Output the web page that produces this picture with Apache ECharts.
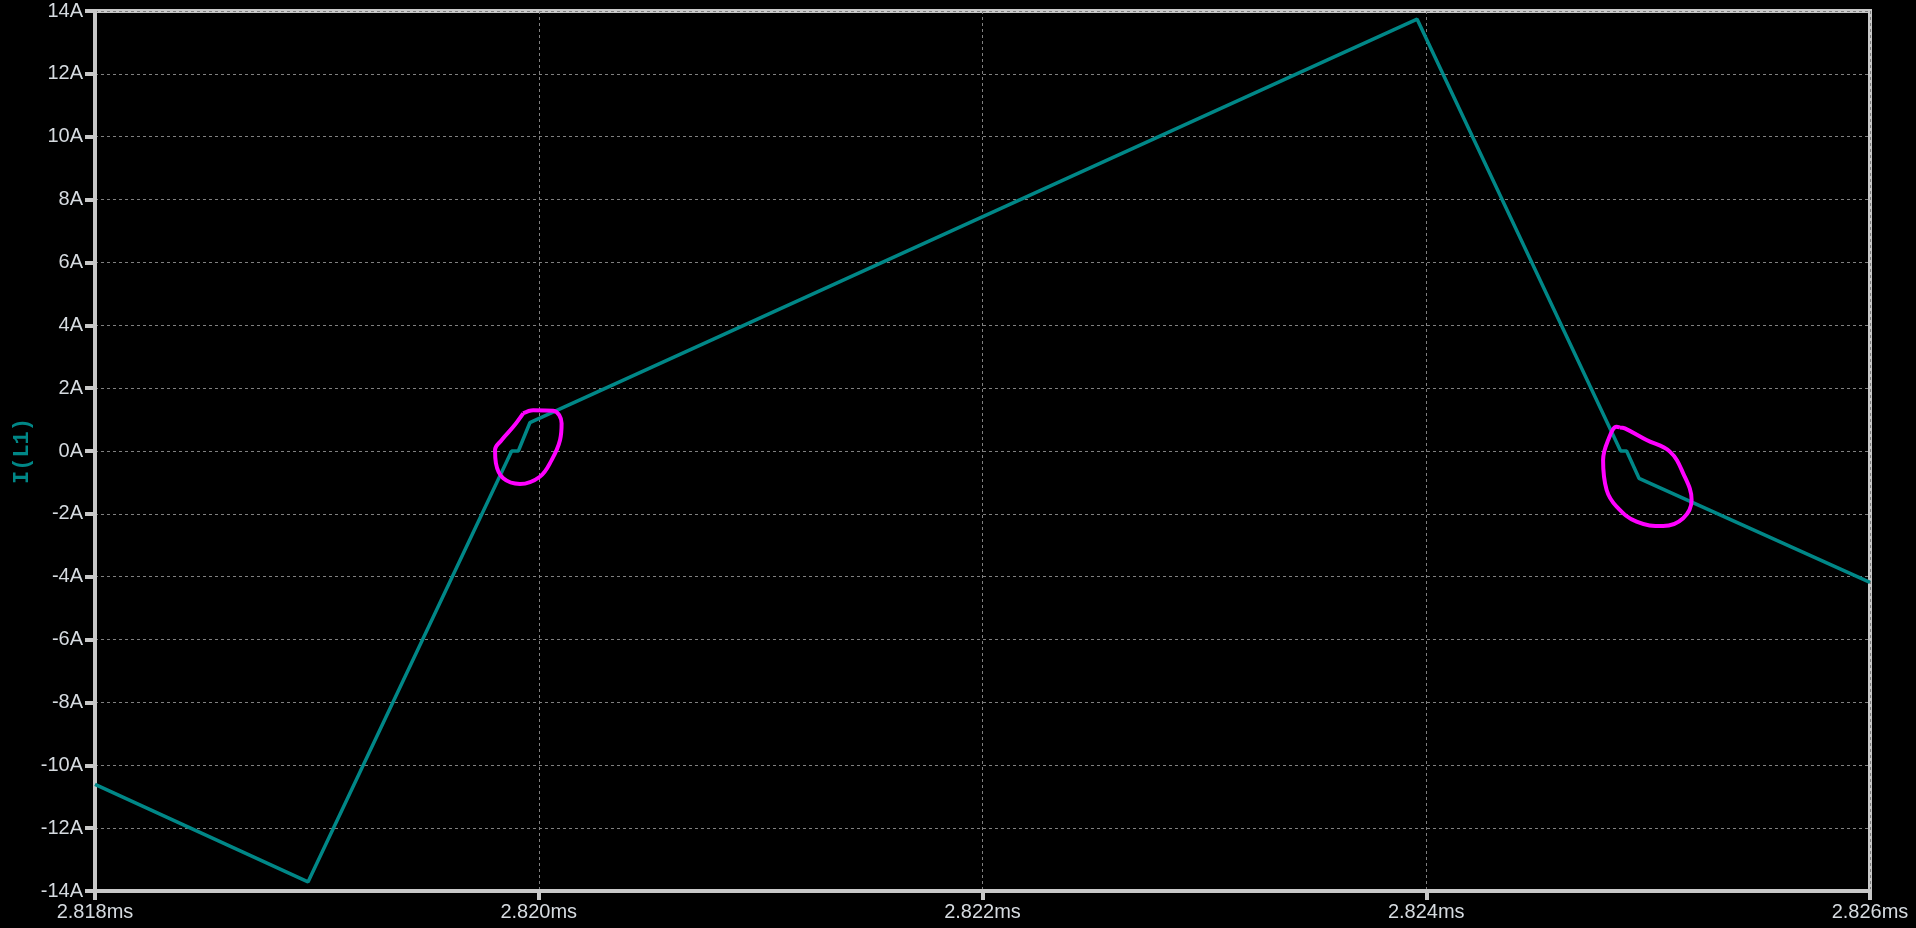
<!DOCTYPE html>
<html>
<head>
<meta charset="utf-8">
<style>
html,body{margin:0;padding:0;background:#000;}
#c{width:1916px;height:928px;}
</style>
<script src="https://cdn.jsdelivr.net/npm/echarts@6/dist/echarts.min.js"></script>
</head>
<body>
<div id="c"></div>
<script>
// Time in microseconds, current in amperes
const traceTimeUs = [2818.0, 2818.96, 2819.878, 2819.908, 2819.96, 2823.959, 2824.876, 2824.903, 2824.959, 2826.0];
const traceAmps   = [-10.61, -13.71, 0, 0, 0.90, 13.74, 0, 0, -0.87, -4.18];

// hand-drawn magenta annotation loops (time us, amps)
const loop1TimeUs = [2819.930, 2819.975, 2820.065, 2820.103, 2820.096, 2820.058, 2820.005, 2819.915, 2819.840, 2819.807, 2819.803, 2819.833, 2819.885, 2819.930];
const loop1Amps   = [1.20, 1.30, 1.28, 0.88, 0.35, -0.29, -0.82, -1.05, -0.87, -0.39, 0.03, 0.35, 0.77, 1.20];
const loop2TimeUs = [2824.872, 2824.895, 2824.993, 2825.098, 2825.158, 2825.196, 2825.158, 2825.068, 2824.948, 2824.858, 2824.813, 2824.797, 2824.820, 2824.858, 2824.872];
const loop2Amps   = [0.75, 0.72, 0.35, -0.02, -0.71, -1.56, -2.14, -2.39, -2.25, -1.77, -1.24, -0.29, 0.35, 0.77, 0.75];

const xMin = 2818, xMax = 2826, xStep = 2;
const yMin = -14, yMax = 14, yStep = 2;
const yAxisTitle = 'I(L1)';

const zip = (a, b) => a.map((v, i) => [v, b[i]]);

const axisGray = '#c8c8c8';
const labelColor = '#d6dbe0';
const teal = '#008787';

const chart = echarts.init(document.getElementById('c'), null, {renderer: 'canvas'});
chart.setOption({
  backgroundColor: '#000',
  animation: false,
  grid: {left: 95, right: 46, top: 11, bottom: 37, containLabel: false, outerBoundsMode: 'none',
    show: true, borderColor: axisGray, borderWidth: 4, backgroundColor: 'transparent'},
  xAxis: {
    type: 'value', min: xMin, max: xMax, interval: xStep,
    axisLine: {show: true, onZero: false, lineStyle: {color: axisGray, width: 4}},
    axisTick: {show: true, length: 9, lineStyle: {color: axisGray, width: 4}},
    axisLabel: {color: labelColor, fontFamily: 'Liberation Sans', fontSize: 20, margin: 11,
      formatter: v => (v / 1000).toFixed(3) + 'ms'},
    splitLine: {show: true, lineStyle: {color: '#808080', width: 1, type: [3, 3]}}
  },
  yAxis: {
    type: 'value', min: yMin, max: yMax, interval: yStep,
    name: yAxisTitle, nameLocation: 'middle', nameRotate: 90, nameGap: 62, nameMoveOverlap: false,
    nameTextStyle: {color: teal, fontFamily: 'Liberation Mono', fontWeight: 'bold', fontSize: 22},
    axisLine: {show: true, onZero: false, lineStyle: {color: axisGray, width: 4}},
    axisTick: {show: true, length: 10, lineStyle: {color: axisGray, width: 4}},
    axisLabel: {color: labelColor, fontFamily: 'Liberation Sans', fontSize: 20, margin: 12,
      formatter: v => v + 'A'},
    splitLine: {show: true, lineStyle: {color: '#808080', width: 1, type: [3, 3]}}
  },
  series: [
    {type: 'line', data: zip(traceTimeUs, traceAmps), symbol: 'none', lineStyle: {color: teal, width: 3.5}, z: 3},
    {type: 'line', data: zip(loop1TimeUs, loop1Amps), symbol: 'none', smooth: 0.4, lineStyle: {color: '#ff00ff', width: 4}, z: 4},
    {type: 'line', data: zip(loop2TimeUs, loop2Amps), symbol: 'none', smooth: 0.4, lineStyle: {color: '#ff00ff', width: 4}, z: 4}
  ]
});
</script>
</body>
</html>
